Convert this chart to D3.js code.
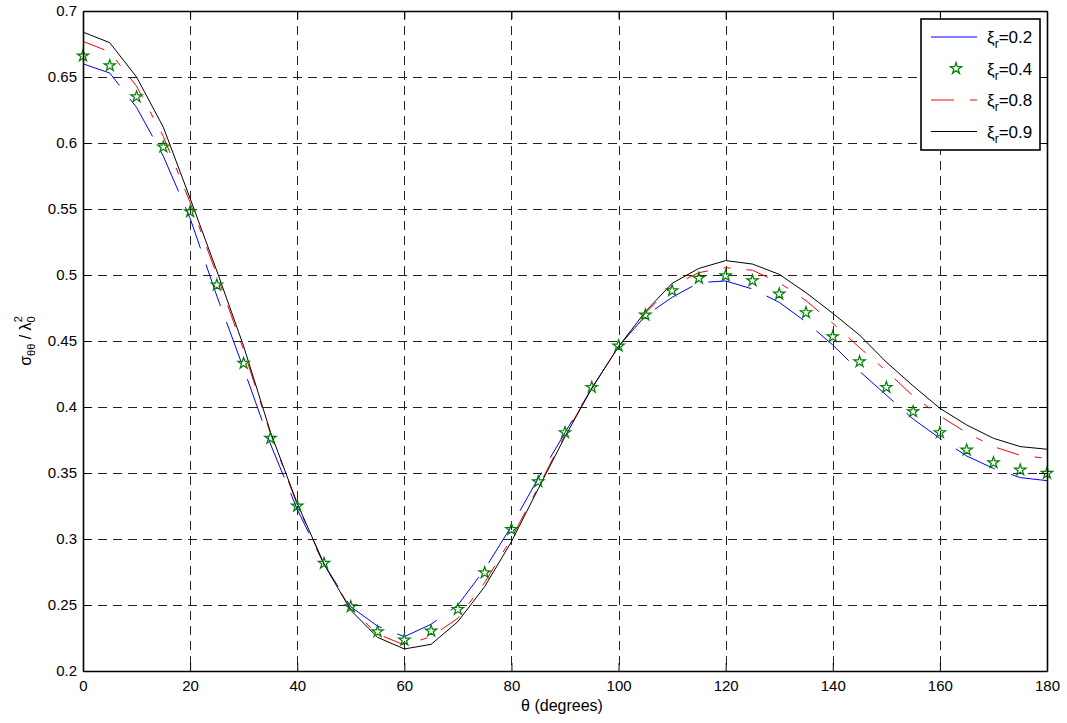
<!DOCTYPE html>
<html>
<head>
  <meta charset="utf-8">
  <script src="https://cdn.jsdelivr.net/npm/d3@7"></script>
  <style type="text/css">
    body {
      margin: 0;
      background: #fff;
      font-family: "Liberation Sans", Arial, Helvetica, sans-serif;
    }
    .axis text {
      font-size: 15px;
      font-family: "Liberation Sans", Arial, Helvetica, sans-serif;
      fill: #000;
    }
    .axis path, .axis line {
      stroke: #000;
    }
    .grid line {
      stroke: #222;
      stroke-dasharray: 9,6;
      shape-rendering: crispEdges;
    }
  </style>
</head>
<body>
  <script type="text/javascript">

  // angles, every 5 degrees
  const theta = d3.range(0, 181, 5);

  // xi_r = 0.2 (blue)
  const xi02 = [0.660, 0.653, 0.627, 0.590, 0.543, 0.484, 0.429, 0.372, 0.3225, 0.281,
    0.2487, 0.234, 0.226, 0.2354, 0.250, 0.277, 0.3098, 0.346, 0.3806, 0.414,
    0.446, 0.469, 0.4831, 0.4942, 0.4955, 0.4894, 0.4793, 0.4644, 0.447, 0.427,
    0.409, 0.3909, 0.3763, 0.3629, 0.3535, 0.3465, 0.3442];

  // xi_r = 0.4 (green stars)
  const xi04 = [0.666, 0.6586, 0.635, 0.597, 0.548, 0.4924, 0.4331, 0.3763, 0.325, 0.2816,
    0.2487, 0.2298, 0.2235, 0.2303, 0.2467, 0.2745, 0.3073, 0.3434, 0.3806, 0.4149,
    0.4462, 0.4697, 0.4881, 0.4975, 0.4995, 0.4957, 0.4856, 0.4715, 0.4533, 0.4343,
    0.4149, 0.3965, 0.3806, 0.3674, 0.3578, 0.3523, 0.3498];

  // xi_r = 0.8 (red dash-dot)
  const xi08 = [0.677, 0.669, 0.643, 0.605, 0.555, 0.500, 0.443, 0.380, 0.326, 0.281,
    0.247, 0.228, 0.2197, 0.226, 0.240, 0.267, 0.3005, 0.3392, 0.3788, 0.414,
    0.446, 0.471, 0.4919, 0.5018, 0.5056, 0.5036, 0.4942, 0.4806, 0.4634, 0.445,
    0.4273, 0.4083, 0.3932, 0.3805, 0.370, 0.3634, 0.3611];

  // xi_r = 0.9 (black)
  const xi09 = [0.684, 0.676, 0.650, 0.612, 0.558, 0.503, 0.446, 0.381, 0.327, 0.281,
    0.246, 0.2255, 0.2167, 0.2202, 0.2374, 0.2639, 0.298, 0.338, 0.3775, 0.4142,
    0.4457, 0.4722, 0.4937, 0.505, 0.5109, 0.5083, 0.5005, 0.4866, 0.471, 0.4545,
    0.434, 0.416, 0.399, 0.3864, 0.3763, 0.370, 0.368];

  const legendLabels = ['0.2', '0.4', '0.8', '0.9'];
  const xTicks = d3.range(0, 181, 20);
  const yTicks = [0.2, 0.25, 0.3, 0.35, 0.4, 0.45, 0.5, 0.55, 0.6, 0.65, 0.7];

  const W = 1067, H = 723;
  const margin = {top: 11, bottom: 52, left: 83, right: 20};
  const width = W - margin.left - margin.right;
  const height = H - margin.top - margin.bottom;

  const svg = d3.select('body').append('svg')
    .attr('width', W)
    .attr('height', H);

  const g = svg.append('g')
    .attr('transform', `translate(${margin.left},${margin.top})`);

  const xscale = d3.scaleLinear().domain([0, 180]).range([0, width]);
  const yscale = d3.scaleLinear().domain([0.2, 0.7]).range([height, 0]);

  // grid
  const grid = g.append('g').attr('class', 'grid');
  grid.selectAll('.gx').data(xTicks.slice(1, -1)).enter().append('line')
    .attr('x1', d => Math.round(xscale(d)) + 0.5).attr('x2', d => Math.round(xscale(d)) + 0.5)
    .attr('y1', 0).attr('y2', height);
  grid.selectAll('.gy').data(yTicks.slice(1, -1)).enter().append('line')
    .attr('y1', d => Math.round(yscale(d)) + 0.5).attr('y2', d => Math.round(yscale(d)) + 0.5)
    .attr('x1', 0).attr('x2', width);

  // series
  const series = [
    {vals: xi02, color: '#0000ff', dash: '44,17'},
    {vals: xi08, color: '#ff0000', dash: '23,16,7,16'},
    {vals: xi09, color: '#000000', dash: null}
  ];
  const line = d3.line().x((d, i) => xscale(theta[i])).y(d => yscale(d));

  g.selectAll('.series').data(series).enter().append('path')
    .attr('class', 'series')
    .attr('d', d => line(d.vals))
    .attr('fill', 'none')
    .attr('stroke', d => d.color)
    .attr('stroke-width', 1)
    .attr('stroke-dasharray', d => d.dash);

  const star = d3.symbol().type(d3.symbolStar).size(40);
  g.selectAll('.star').data(xi04).enter().append('path')
    .attr('class', 'star')
    .attr('d', star)
    .attr('transform', (d, i) => `translate(${xscale(theta[i])},${yscale(d)})`)
    .attr('fill', 'none')
    .attr('stroke', '#008000')
    .attr('stroke-width', 1.2);

  // axes, ticks inward like the original
  const xaxis = d3.axisBottom(xscale).tickValues(xTicks).tickSizeInner(-8).tickSizeOuter(0).tickPadding(9);
  const xaxisTop = d3.axisTop(xscale).tickValues(xTicks).tickSizeInner(-8).tickSizeOuter(0).tickFormat('');
  const yaxis = d3.axisLeft(yscale).tickValues(yTicks).tickSizeInner(-8).tickSizeOuter(0).tickPadding(6)
    .tickFormat(d => String(+d.toFixed(2)));
  const yaxisRight = d3.axisRight(yscale).tickValues(yTicks).tickSizeInner(-8).tickSizeOuter(0).tickFormat('');

  g.append('g').attr('class', 'axis').attr('transform', `translate(0,${height})`).call(xaxis);
  g.append('g').attr('class', 'axis').call(xaxisTop);
  g.append('g').attr('class', 'axis').call(yaxis);
  g.append('g').attr('class', 'axis').attr('transform', `translate(${width},0)`).call(yaxisRight);
  g.selectAll('.axis path').attr('stroke-width', 1.6);

  // axis labels
  svg.append('text')
    .attr('x', margin.left + width / 2 - 3)
    .attr('y', 711)
    .attr('text-anchor', 'middle')
    .style('font-size', '16px')
    .text('θ (degrees)');

  const ylab = svg.append('text')
    .attr('transform', `translate(31,${margin.top + height / 2}) rotate(-90)`)
    .attr('text-anchor', 'middle')
    .style('font-size', '16px');
  ylab.append('tspan').text('σ');
  ylab.append('tspan').attr('dy', 4).style('font-size', '11px').text('θθ');
  ylab.append('tspan').attr('dy', -4).text(' / λ');
  ylab.append('tspan').attr('dy', 4).style('font-size', '11px').text('0');
  ylab.append('tspan').attr('dx', -6).attr('dy', -13).style('font-size', '11px').text('2');

  // legend
  const lg = svg.append('g').attr('transform', 'translate(921,19)');
  lg.append('rect')
    .attr('width', 119).attr('height', 131)
    .attr('fill', '#fff').attr('stroke', '#000').attr('stroke-width', 1.6);

  const rows = [
    {type: 'line', color: '#0000ff', dash: null},
    {type: 'star'},
    {type: 'line', color: '#ff0000', dash: '23,16,7,16'},
    {type: 'line', color: '#000000', dash: null}
  ];
  rows.forEach((r, i) => {
    const yy = 18 + i * 31.5;
    if (r.type === 'line') {
      lg.append('line').attr('x1', 10).attr('x2', 56).attr('y1', yy).attr('y2', yy)
        .attr('stroke', r.color).attr('stroke-dasharray', r.dash);
    } else {
      lg.append('path').attr('d', star).attr('transform', `translate(35,${yy})`)
        .attr('fill', 'none').attr('stroke', '#008000').attr('stroke-width', 1.2);
    }
    const t = lg.append('text').attr('x', 66).attr('y', yy + 6).style('font-size', '17px');
    t.append('tspan').text('ξ');
    t.append('tspan').attr('dy', 5).style('font-size', '12px').text('r');
    t.append('tspan').attr('dy', -5).text('=' + legendLabels[i]);
  });

  </script>
</body>
</html>
